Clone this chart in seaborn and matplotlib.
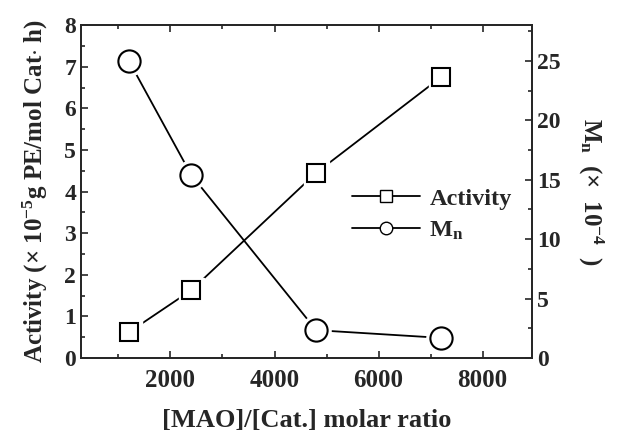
import matplotlib
matplotlib.use("Agg")
import matplotlib.pyplot as plt
import seaborn as sns
from matplotlib.ticker import MultipleLocator
from matplotlib.lines import Line2D

# data
ratio = [1200, 2400, 4800, 7200]
activity = [0.62, 1.63, 4.45, 6.75]
mn = [25.0, 15.4, 2.35, 1.7]

sns.set_style("ticks")
plt.rcParams["font.family"] = ["Liberation Serif", "DejaVu Serif"]
plt.rcParams["font.weight"] = "bold"
plt.rcParams["mathtext.fontset"] = "custom"
plt.rcParams["mathtext.rm"] = "Liberation Serif:bold"
plt.rcParams["mathtext.it"] = "Liberation Serif:bold"
plt.rcParams["mathtext.bf"] = "Liberation Serif:bold"

fig = plt.figure(figsize=(6.18, 4.33), dpi=100)
ax = fig.add_axes([0.131, 0.173, 0.730, 0.769])
ax2 = ax.twinx()


def draw(axis, x, y, marker, ms):
    sns.lineplot(x=x, y=y, ax=axis, color="black", linewidth=1.3, zorder=2)
    # white halo so the line stops short of the marker, like the original
    axis.plot(x, y, linestyle="none", marker=marker, markersize=ms + 5,
              markerfacecolor="white", markeredgecolor="white", zorder=3)
    axis.plot(x, y, linestyle="none", marker=marker, markersize=ms,
              markerfacecolor="white", markeredgecolor="black",
              markeredgewidth=1.5, zorder=4)


draw(ax, ratio, activity, "s", 13)
draw(ax2, ratio, mn, "o", 16)

ax.set_xlim(280, 8950)
ax.set_ylim(0, 8)
ax2.set_ylim(0, 28)

ax.xaxis.set_major_locator(MultipleLocator(2000))
ax.xaxis.set_minor_locator(MultipleLocator(1000))
ax.yaxis.set_major_locator(MultipleLocator(1))
ax.yaxis.set_minor_locator(MultipleLocator(0.5))
ax2.yaxis.set_major_locator(MultipleLocator(5))
ax2.yaxis.set_minor_locator(MultipleLocator(2.5))

for a in (ax, ax2):
    a.tick_params(which="both", direction="in", labelsize=17, width=1.2)
    a.tick_params(which="major", length=5)
    a.tick_params(which="minor", length=3)
    for s in a.spines.values():
        s.set_linewidth(1.3)
        s.set_visible(True)
ax.tick_params(axis="x", which="both", top=True, pad=8, labelsize=18)
ax.tick_params(axis="y", which="both", right=False)
ax2.tick_params(axis="y", which="both", left=False)

ax.set_xlabel("[MAO]/[Cat.] molar ratio", fontsize=19, fontweight="bold", labelpad=12)
ax.set_ylabel(r"Activity ($\times$ 10$^{-5}$g PE/mol Cat$\cdot$ h)",
              fontsize=18, fontweight="bold", labelpad=10)
ax2.set_ylabel(r"M$_{\rm n}$  ($\times$  10$^{-4}$  )", fontsize=18,
               fontweight="bold", rotation=270, labelpad=32)

handles = [
    Line2D([], [], color="black", linewidth=1.3, marker="s", markersize=9,
           markerfacecolor="white", markeredgecolor="black"),
    Line2D([], [], color="black", linewidth=1.3, marker="o", markersize=9,
           markerfacecolor="white", markeredgecolor="black"),
]
ax2.legend(handles, ["Activity", r"M$_{\rm n}$"], loc="center left",
           bbox_to_anchor=(0.6, 0.43), frameon=False, handlelength=2.8,
           handletextpad=0.4, borderpad=0, borderaxespad=0,
           prop={"size": 17.5, "weight": "bold"}, labelspacing=0.4)

fig.savefig("out.png", dpi=100)
